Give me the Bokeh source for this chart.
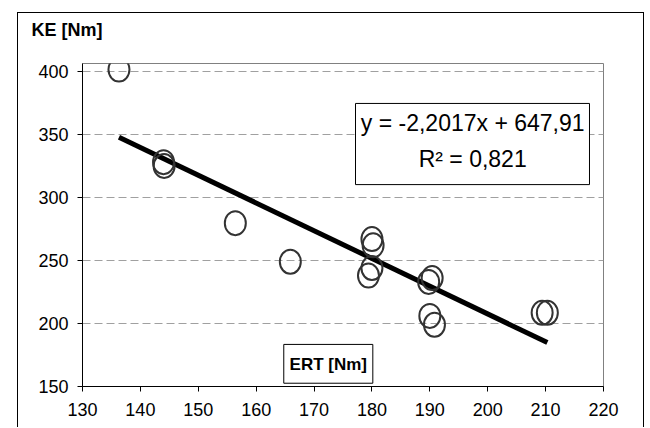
from bokeh.plotting import figure
from bokeh.models import FixedTicker, Label, BoxAnnotation
from bokeh.embed import file_html
from bokeh.resources import INLINE

# Data
ert = [136.3, 144.0, 144.1, 156.4, 165.9, 180.0, 180.2, 180.0, 179.4,
       190.4, 189.8, 190.0, 190.8, 209.4, 210.3]
ke = [401.5, 328.0, 325.0, 279.6, 249.0, 267.0, 262.0, 244.0, 238.0,
      236.0, 233.0, 206.0, 199.0, 208.5, 208.5]

slope = -2.2017
intercept = 647.91
r2_text = "0,821"

x_ticks = [130, 140, 150, 160, 170, 180, 190, 200, 210, 220]
y_ticks = [150, 200, 250, 300, 350, 400]

FONT = "Liberation Sans"

p = figure(width=627, height=415, x_range=(130, 220), y_range=(150, 406.3),
           output_backend="svg", toolbar_location=None,
           min_border_left=64, min_border_right=42, min_border_top=50,
           min_border_bottom=42, margin=(12, 0, 0, 17))
# outer chart border
p.styles = {"border-left": "1px solid black", "border-top": "1px solid black",
            "border-right": "1px solid black"}

p.background_fill_color = "white"
p.border_fill_color = "white"
p.outline_line_color = "#808080"
p.outline_line_width = 1

# y-axis title as plot title, shifted to the top-left corner of the chart
# (an empty second line lifts the text to the top of the border area)
p.title.text = "KE [Nm]\n "
p.title.align = "left"
p.title.offset = -51
p.title.text_font = FONT
p.title.text_font_size = "18px"
p.title.text_font_style = "bold"
p.title.text_color = "black"
p.title.standoff = 8

p.xgrid.visible = False
p.ygrid.grid_line_color = "#a0a0a0"
p.ygrid.grid_line_dash = "8 4"
p.ygrid.grid_line_width = 1
p.ygrid.ticker = FixedTicker(ticks=y_ticks)

p.xaxis.ticker = FixedTicker(ticks=x_ticks)
p.yaxis.ticker = FixedTicker(ticks=y_ticks)
for ax in (p.xaxis[0], p.yaxis[0]):
    ax.axis_line_color = "black"
    ax.axis_line_width = 1
    ax.major_tick_line_color = "black"
    ax.major_tick_out = 5
    ax.major_tick_in = 0
    ax.minor_tick_line_color = None
    ax.major_label_text_font = FONT
    ax.major_label_text_font_size = "18px"
    ax.major_label_text_color = "black"
p.xaxis.major_label_standoff = 11
p.yaxis.major_label_standoff = 9

# regression line across the data range
x0, x1 = min(ert), max(ert)
p.line([x0, x1], [slope * x0 + intercept, slope * x1 + intercept],
       line_color="black", line_width=5)

# data points
p.ellipse(ert, ke, width=21, height=24, width_units="screen",
          height_units="screen", fill_color=None, line_color="#333333",
          line_width=2)

# equation box
p.add_layout(BoxAnnotation(left=177.16, right=217.58, top=374.6, bottom=310.2,
                           fill_color="white", fill_alpha=1.0,
                           line_color="black", line_width=1, line_alpha=1.0))
eq = f"y = {str(slope).replace('.', ',')}x + {str(intercept).replace('.', ',')}"
p.add_layout(Label(x=197.4, y=358.9, text=eq,
                   text_font=FONT, text_font_size="23px", text_color="black",
                   text_align="center", text_baseline="middle"))
p.add_layout(Label(x=197.4, y=330.3, text=f"R² = {r2_text}",
                   text_font=FONT, text_font_size="23px", text_color="black",
                   text_align="center", text_baseline="middle"))

# x axis title box
p.add_layout(BoxAnnotation(left=164.77, right=180.15, top=183.4, bottom=152.6,
                           fill_color="white", fill_alpha=1.0,
                           line_color="black", line_width=1, line_alpha=1.0))
p.add_layout(Label(x=172.46, y=167.8, text="ERT [Nm]", text_font=FONT,
                   text_font_size="17px", text_font_style="bold",
                   text_color="black", text_align="center",
                   text_baseline="middle"))

open("out.html", "w").write(file_html(p, INLINE))
